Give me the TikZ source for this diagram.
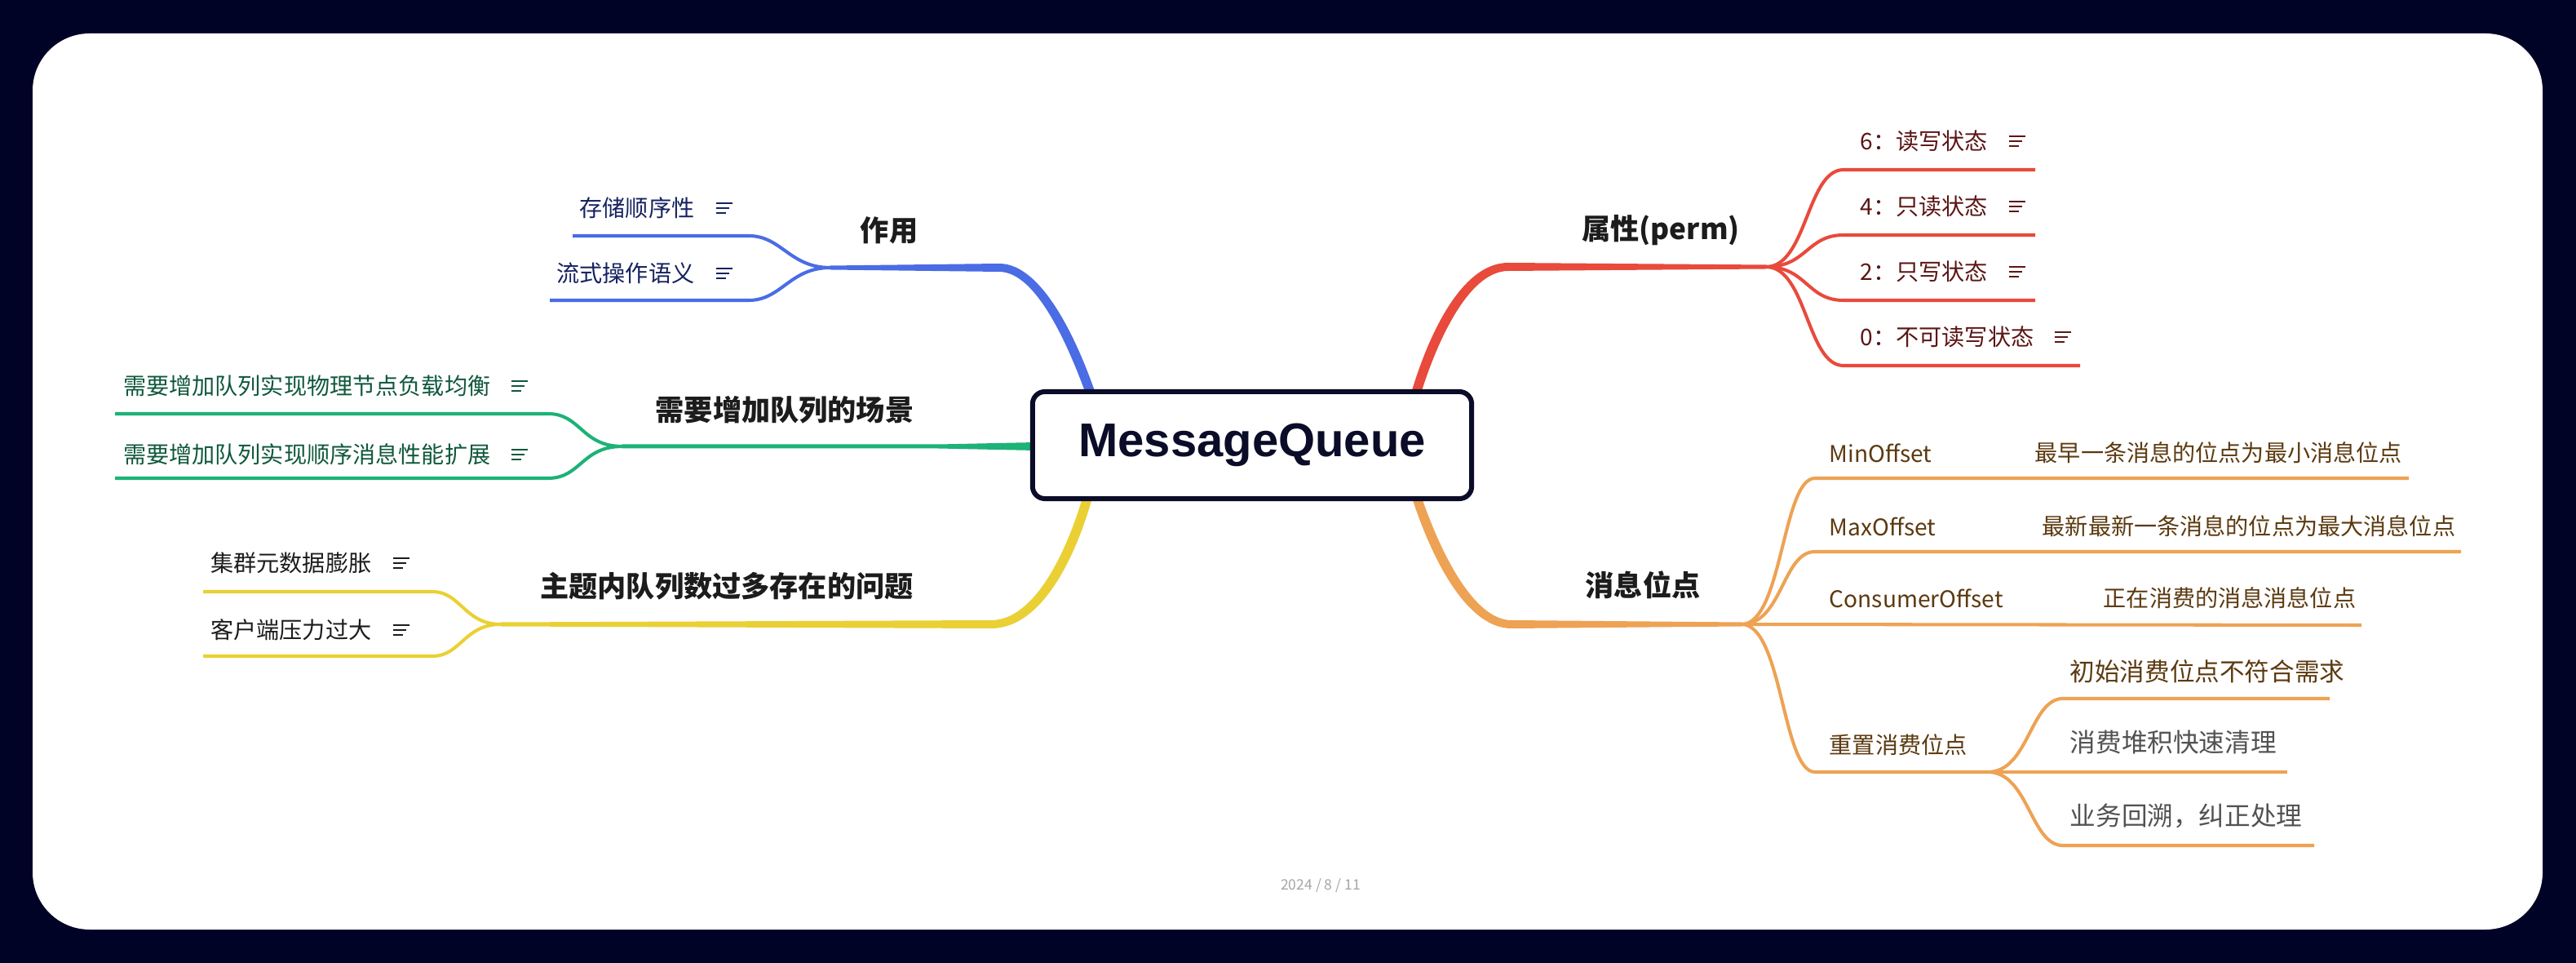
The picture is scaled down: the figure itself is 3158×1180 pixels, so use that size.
\documentclass[tikz,border=0pt]{standalone}
\usepackage{fontspec}
\setmainfont{Noto Sans CJK SC}
\newfontfamily\mqlatin{Liberation Sans}
\definecolor{mqbg}{RGB}{0,3,38}
\definecolor{mqnavy}{RGB}{10,12,40}
\definecolor{mqblue}{RGB}{74,108,228}
\definecolor{mqbluetext}{RGB}{22,34,96}
\definecolor{mqgreen}{RGB}{28,178,120}
\definecolor{mqgreentext}{RGB}{16,88,60}
\definecolor{mqyellow}{RGB}{234,208,52}
\definecolor{mqred}{RGB}{232,74,60}
\definecolor{mqredtext}{RGB}{92,22,22}
\definecolor{mqorange}{RGB}{238,162,84}
\definecolor{mqbrown}{RGB}{92,58,16}
\definecolor{mqgray}{RGB}{82,82,82}
\definecolor{mqdark}{RGB}{28,28,28}
\usetikzlibrary{calc}

\begin{document}
\begin{tikzpicture}[x=0.01cm,y=-0.01cm,
  mqtopic/.style={font=\fontsize{10}{12}\selectfont\bfseries,text=mqdark,inner sep=0pt},
  mqsub/.style={font=\fontsize{8}{10}\selectfont,inner sep=0pt},
  mqdetail/.style={font=\fontsize{9}{11}\selectfont,inner sep=0pt,anchor=west},
  mqline/.style={line width=1.15pt},
  notes/.pic={\draw[line width=0.7pt] (-10,-6) -- (10,-6) (-10,0) -- (6,0) (-10,6) -- (2,6);}
]
  % Canvas
  \useasboundingbox (0,0) rectangle (3158,1180);
  \fill[mqbg] (0,0) rectangle (3158,1180);
  \fill[white,rounded corners=0.7cm] (40,41) rectangle (3117,1139);

  % Branch points
  \coordinate (zyA) at (1338,485); \coordinate (zyB) at (1225,328); \coordinate (zyJ) at (1018,328);
  \coordinate (zy1s) at (918,289); \coordinate (zy1e) at (702,289);
  \coordinate (zy2s) at (918,368); \coordinate (zy2e) at (674,368);
  \coordinate (cjA) at (1270,547); \coordinate (cjB) at (1150,547); \coordinate (cjJ) at (763,547);
  \coordinate (cj1s) at (672,507); \coordinate (cj1e) at (141,507);
  \coordinate (cj2s) at (672,586); \coordinate (cj2e) at (141,586);
  \coordinate (wtA) at (1333,610); \coordinate (wtB) at (1215,765); \coordinate (wtJ) at (614,765);
  \coordinate (wt1s) at (530,725); \coordinate (wt1e) at (249,725);
  \coordinate (wt2s) at (530,804); \coordinate (wt2e) at (249,804);
  \coordinate (sxA) at (1735,485); \coordinate (sxB) at (1849,327); \coordinate (sxJ) at (2165,327);
  \coordinate (sx1s) at (2260,208); \coordinate (sx1e) at (2495,208);
  \coordinate (sx2s) at (2260,288); \coordinate (sx2e) at (2495,288);
  \coordinate (sx3s) at (2260,368); \coordinate (sx3e) at (2495,368);
  \coordinate (sx4s) at (2260,448); \coordinate (sx4e) at (2550,448);
  \coordinate (wdA) at (1737,610); \coordinate (wdB) at (1853,765); \coordinate (wdJ) at (2135,765);
  \coordinate (wd1s) at (2225,586); \coordinate (wd1e) at (2953,586);
  \coordinate (wd2s) at (2225,676); \coordinate (wd2e) at (3017,676);
  \coordinate (wd3e) at (2895,766);
  \coordinate (wd4s) at (2225,946); \coordinate (wd4j) at (2437,946);
  \coordinate (wd5s) at (2529,856); \coordinate (wd5e) at (2856,856);
  \coordinate (wd6e) at (2804,946);
  \coordinate (wd7s) at (2529,1036); \coordinate (wd7e) at (2837,1036);

  % Main branches (tapered)
  \fill[mqblue] ($(zyJ)+(0,-2.5)$) -- ($(zyB)+(0,-5)$)
    .. controls ($(zyB)+(55,-5)$) and ($(zyA)+(-14,-59)$) .. ($(zyA)+(6,0)$)
    -- ($(zyA)+(-6,0)$)
    .. controls ($(zyA)+(-26,-55)$) and ($(zyB)+(47,5)$) .. ($(zyB)+(0,5)$)
    -- ($(zyJ)+(0,2.5)$) -- cycle;
  \fill[mqgreen] ($(cjJ)+(0,-2.5)$) -- ($(cjB)+(0,-2.5)$) -- ($(cjA)+(0,-5)$)
    -- ($(cjA)+(0,5)$) -- ($(cjB)+(0,2.5)$) -- ($(cjJ)+(0,2.5)$) -- cycle;
  \fill[mqyellow] ($(wtJ)+(0,-2.5)$) -- ($(wtB)+(0,-5)$)
    .. controls ($(wtB)+(55,-5)$) and ($(wtA)+(-24,61)$) .. ($(wtA)+(-6,0)$)
    -- ($(wtA)+(6,0)$)
    .. controls ($(wtA)+(-12,65)$) and ($(wtB)+(65,5)$) .. ($(wtB)+(0,5)$)
    -- ($(wtJ)+(0,2.5)$) -- cycle;
  \fill[mqred] ($(sxJ)+(0,-2.5)$) -- ($(sxB)+(0,-5)$)
    .. controls ($(sxB)+(-59,-5)$) and ($(sxA)+(14,-69)$) .. ($(sxA)+(-6,0)$)
    -- ($(sxA)+(6,0)$)
    .. controls ($(sxA)+(26,-65)$) and ($(sxB)+(-49,5)$) .. ($(sxB)+(0,5)$)
    -- ($(sxJ)+(0,2.5)$) -- cycle;
  \fill[mqorange] ($(wdJ)+(0,-2.5)$) -- ($(wdB)+(0,-5)$)
    .. controls ($(wdB)+(-48,-5)$) and ($(wdA)+(27,61)$) .. ($(wdA)+(6,0)$)
    -- ($(wdA)+(-6,0)$)
    .. controls ($(wdA)+(15,65)$) and ($(wdB)+(-58,5)$) .. ($(wdB)+(0,5)$)
    -- ($(wdJ)+(0,2.5)$) -- cycle;

  % Central topic
  \node[draw=mqnavy,line width=1.7pt,fill=white,rounded corners=0.15cm,
    minimum width=5.38cm,minimum height=1.31cm,text=mqnavy,
    font=\mqlatin\fontsize{16.5}{20}\selectfont\bfseries] (mq) at (1535,545.5) {MessageQueue};

  % 作用
  \node[mqtopic] (zy) at (1090,282) {作用};
  \draw[mqline,mqblue] (zyJ) .. controls +(-50,0) and +(40,0) .. (zy1s) -- (zy1e);
  \draw[mqline,mqblue] (zyJ) .. controls +(-50,0) and +(40,0) .. (zy2s) -- (zy2e);
  \node[mqsub,text=mqbluetext,anchor=east] (zy1) at (852,255) {存储顺序性};
  \node[mqsub,text=mqbluetext,anchor=east] (zy2) at (852,335) {流式操作语义};
  \pic[mqbluetext] at ($(zy1.east)+(36,0)$) {notes};
  \pic[mqbluetext] at ($(zy2.east)+(36,0)$) {notes};

  % 需要增加队列的场景
  \node[mqtopic] (cj) at (962,502) {需要增加队列的场景};
  \draw[mqline,mqgreen] (cjJ) .. controls +(-50,0) and +(40,0) .. (cj1s) -- (cj1e);
  \draw[mqline,mqgreen] (cjJ) .. controls +(-50,0) and +(40,0) .. (cj2s) -- (cj2e);
  \node[mqsub,text=mqgreentext,anchor=east] (cj1) at (602,473) {需要增加队列实现物理节点负载均衡};
  \node[mqsub,text=mqgreentext,anchor=east] (cj2) at (602,557) {需要增加队列实现顺序消息性能扩展};
  \pic[mqgreentext] at ($(cj1.east)+(35,0)$) {notes};
  \pic[mqgreentext] at ($(cj2.east)+(35,0)$) {notes};

  % 主题内队列数过多存在的问题
  \node[mqtopic] (wt) at (891,718) {主题内队列数过多存在的问题};
  \draw[mqline,mqyellow] (wtJ) .. controls +(-45,0) and +(35,0) .. (wt1s) -- (wt1e);
  \draw[mqline,mqyellow] (wtJ) .. controls +(-45,0) and +(35,0) .. (wt2s) -- (wt2e);
  \node[mqsub,text=mqdark,anchor=east] (wt1) at (456,690) {集群元数据膨胀};
  \node[mqsub,text=mqdark,anchor=east] (wt2) at (456,772) {客户端压力过大};
  \pic[mqdark] at ($(wt1.east)+(36,0)$) {notes};
  \pic[mqdark] at ($(wt2.east)+(36,0)$) {notes};

  % 属性(perm)
  \node[mqtopic] (sx) at (2036,282) {属性(perm)};
  \draw[mqline,mqred] (sxJ) .. controls +(50,0) and +(-45,0) .. (sx1s) -- (sx1e);
  \draw[mqline,mqred] (sxJ) .. controls +(50,0) and +(-45,0) .. (sx2s) -- (sx2e);
  \draw[mqline,mqred] (sxJ) .. controls +(50,0) and +(-45,0) .. (sx3s) -- (sx3e);
  \draw[mqline,mqred] (sxJ) .. controls +(50,0) and +(-45,0) .. (sx4s) -- (sx4e);
  \node[mqsub,text=mqredtext,anchor=west] (sx1) at (2280,173) {6：读写状态};
  \node[mqsub,text=mqredtext,anchor=west] (sx2) at (2280,253) {4：只读状态};
  \node[mqsub,text=mqredtext,anchor=west] (sx3) at (2280,333) {2：只写状态};
  \node[mqsub,text=mqredtext,anchor=west] (sx4) at (2280,413) {0：不可读写状态};
  \pic[mqredtext] at ($(sx1.east)+(35,0)$) {notes};
  \pic[mqredtext] at ($(sx2.east)+(35,0)$) {notes};
  \pic[mqredtext] at ($(sx3.east)+(35,0)$) {notes};
  \pic[mqredtext] at ($(sx4.east)+(35,0)$) {notes};

  % 消息位点
  \node[mqtopic] (wd) at (2014,717) {消息位点};
  \draw[mqline,mqorange] (wdJ) .. controls +(50,0) and +(-40,0) .. (wd1s) -- (wd1e);
  \draw[mqline,mqorange] (wdJ) .. controls +(50,0) and +(-40,0) .. (wd2s) -- (wd2e);
  \draw[mqline,mqorange] (wdJ) -- (wd3e);
  \draw[mqline,mqorange] (wdJ) .. controls +(50,0) and +(-40,0) .. (wd4s) -- (wd4j);
  \draw[mqline,mqorange] (wd4j) .. controls +(50,0) and +(-40,0) .. (wd5s) -- (wd5e);
  \draw[mqline,mqorange] (wd4j) -- (wd6e);
  \draw[mqline,mqorange] (wd4j) .. controls +(50,0) and +(-40,0) .. (wd7s) -- (wd7e);
  \node[mqsub,text=mqbrown,anchor=west] (wd1) at (2242,555) {MinOffset};
  \node[mqsub,text=mqbrown,anchor=west] (wd1d) at (2494,555) {最早一条消息的位点为最小消息位点};
  \node[mqsub,text=mqbrown,anchor=west] (wd2) at (2242,645) {MaxOffset};
  \node[mqsub,text=mqbrown,anchor=west] (wd2d) at (2503,645) {最新最新一条消息的位点为最大消息位点};
  \node[mqsub,text=mqbrown,anchor=west] (wd3) at (2242,733) {ConsumerOffset};
  \node[mqsub,text=mqbrown,anchor=west] (wd3d) at (2578,733) {正在消费的消息消息位点};
  \node[mqsub,text=mqbrown,anchor=west] (wd4) at (2242,913) {重置消费位点};
  \node[mqdetail,text=mqbrown,font=\fontsize{8.7}{10}\selectfont] (wd5) at (2537,823) {初始消费位点不符合需求};
  \node[mqdetail,text=mqgray] (wd6) at (2537,910) {消费堆积快速清理};
  \node[mqdetail,text=mqgray] (wd7) at (2537,1000) {业务回溯，纠正处理};

  % Footer
  \node[font=\fontsize{5}{6}\selectfont,text=black!35] (date) at (1619,1085) {2024 / 8 / 11};
\end{tikzpicture}
\end{document}
